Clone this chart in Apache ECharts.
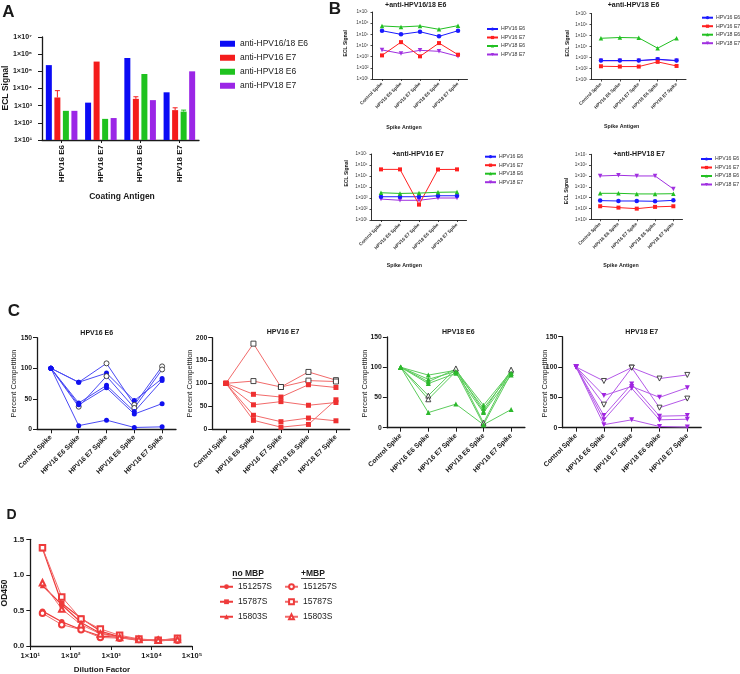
<!DOCTYPE html>
<html><head><meta charset="utf-8">
<script src="https://cdn.jsdelivr.net/npm/echarts@6/dist/echarts.min.js"></script>
<style>html,body{margin:0;padding:0;background:#fff}#c{width:740px;height:674px}</style>
</head><body><div id="c"></div>
<script>
// ================= DATA =================
// Panel A
const coatingAntigens = ['HPV16 E6', 'HPV16 E7', 'HPV18 E6', 'HPV18 E7'];
const barNames = ['anti-HPV16/18 E6', 'anti-HPV16 E7', 'anti-HPV18 E6', 'anti-HPV18 E7'];
const A_anti1618E6 = [2.3e5, 1.5e3, 6.0e5, 6.0e3];
const A_anti16E7 = [3.0e3, 3.7e5, 2.5e3, 5.5e2];
const A_anti18E6 = [5.0e2, 1.7e2, 7.0e4, 4.5e2];
const A_anti18E7 = [5.0e2, 1.9e2, 2.1e3, 1.0e5];
const A_err16E7_top = [7.5e3, null, 3.3e3, 7.5e2];
const A_err18E6_top = [null, null, null, 5.5e2];

// Panel B
const spikeAntigens = ['Control Spike', 'HPV16 E6 Spike', 'HPV16 E7 Spike', 'HPV18 E6 Spike', 'HPV18 E7 Spike'];
const detectNames = ['HPV16 E6', 'HPV16 E7', 'HPV18 E6', 'HPV18 E7'];
const B_titles = ['+anti-HPV16/18 E6', '+anti-HPV18 E6', '+anti-HPV16 E7', '+anti-HPV18 E7'];
const B1_16E6 = [2.1e5, 1.0e5, 1.7e5, 6.6e4, 2.1e5];
const B1_16E7 = [1.3e3, 2.0e4, 1.07e3, 1.65e4, 1.5e3];
const B1_18E6 = [5.6e5, 4.6e5, 5.6e5, 2.8e5, 6.0e5];
const B1_18E7 = [4.0e3, 1.9e3, 3.7e3, 3.0e3, 1.07e3];
const B2_16E6 = [5.3e2, 5.3e2, 5.3e2, 7.0e2, 5.3e2];
const B2_16E7 = [1.6e2, 1.5e2, 1.5e2, 4.0e2, 1.7e2];
const B2_18E6 = [5.6e4, 6.6e4, 6.1e4, 7.0e3, 5.6e4];
const B2_18E7 = [5.0e2, 5.0e2, 5.0e2, 6.5e2, 5.0e2];
const B3_16E6 = [1.3e3, 1.3e3, 1.3e3, 1.6e3, 1.6e3];
const B3_16E7 = [4.0e5, 4.0e5, 2.5e2, 3.9e5, 4.0e5];
const B3_18E6 = [3.0e3, 2.6e3, 2.8e3, 3.3e3, 3.5e3];
const B3_18E7 = [8.0e2, 6.2e2, 6.2e2, 1.0e3, 1.0e3];
const B4_16E6 = [5.3e2, 4.9e2, 4.9e2, 4.6e2, 5.6e2];
const B4_16E7 = [1.6e2, 1.2e2, 9.6e1, 1.4e2, 1.6e2];
const B4_18E6 = [2.5e3, 2.5e3, 2.2e3, 2.2e3, 2.3e3];
const B4_18E7 = [1.0e5, 1.15e5, 1.0e5, 1.0e5, 6.3e3];

// Panel C (percent competition, one row per antibody line)
const C_titles = ['HPV16 E6', 'HPV16 E7', 'HPV18 E6', 'HPV18 E7'];
const C_HPV16E6 = [
  [100, 77, 92, 47, 83],
  [100, 77, 108, 40, 103],
  [100, 37, 87, 35, 98],
  [100, 43, 72, 29, 80],
  [100, 40, 68, 25, 42],
  [100, 6, 15, 3, 4]
];
const C_HPV16E7 = [
  [100, 187, 92, 125, 107],
  [100, 105, 92, 106, 104],
  [100, 76, 70, 97, 91],
  [100, 53, 60, 52, 58],
  [100, 30, 16, 24, 18],
  [100, 19, 4, 10, 64]
];
const C_HPV18E6 = [
  [100, 87, 95, 37, 93],
  [100, 80, 93, 32, 90],
  [100, 76, 97, 27, 95],
  [100, 73, 90, 25, 87],
  [100, 53, 98, 8, 96],
  [100, 47, 93, 5, 90],
  [100, 25, 39, 5, 30]
];
const C_HPV18E7 = [
  [100, 77, 99, 81, 87],
  [100, 53, 68, 50, 66],
  [100, 38, 99, 33, 48],
  [100, 20, 72, 19, 20],
  [100, 13, 65, 13, 14],
  [100, 5, 13, 2, 1]
];
const C_yMax = [150, 200, 150, 150];

// Panel D
const dilution = [20, 60, 180, 540, 1620, 4860, 14580, 43740];
const D_151257S_noMBP = [0.49, 0.34, 0.23, 0.14, 0.12, 0.08, 0.08, 0.09];
const D_15787S_noMBP = [1.37, 0.60, 0.39, 0.21, 0.13, 0.09, 0.08, 0.10];
const D_15803S_noMBP = [0.85, 0.58, 0.33, 0.18, 0.13, 0.09, 0.07, 0.09];
const D_151257S_MBP = [0.46, 0.30, 0.23, 0.12, 0.11, 0.09, 0.08, 0.08];
const D_15787S_MBP = [1.38, 0.69, 0.38, 0.24, 0.15, 0.10, 0.08, 0.11];
const D_15803S_MBP = [0.89, 0.52, 0.30, 0.17, 0.12, 0.09, 0.08, 0.09];
const D_samples = ['151257S', '15787S', '15803S'];

// ================= STYLE / LAYOUT =================
const FF = '"Liberation Sans", Arial, sans-serif';
const INK = '#1a1a1a';
const SUP = '⁰¹²³⁴⁵⁶⁷⁸⁹';
const sup = n => String(n).split('').map(c => SUP[+c]).join('');
const logFmt = v => '1×10' + sup(Math.round(Math.log10(v)));

const barColors = ['#0b0bf5', '#f41c1c', '#1fc21f', '#9b26e6'];
const lineColorsB = ['#1a1aff', '#ff2020', '#22c022', '#a030e0'];
const symbolsB = ['circle', 'rect', 'triangle', 'triangle'];
const rotB = [0, 0, 0, 180];

// hollow (open) marker indexes for panel C rows
const C_hollow = [
  [[], [2, 3, 4], [1, 2, 3, 4], [], [], []],
  [[1, 2, 3, 4], [1, 2, 3, 4], [], [], [], []],
  [[], [], [], [], [1, 2, 3, 4], [1], []],
  [[1, 2, 3, 4], [], [1, 2, 3, 4], [], [], []]
];
const C_markColor = ['#1010f0', '#ee3030', '#2cb82c', '#a025e0'];
const C_lineColor = ['#4a4af5', '#f26a6a', '#5ccc5c', '#b458e8'];
const C_symbol = ['circle', 'rect', 'triangle', 'triangle'];
const C_rot = [0, 0, 0, 180];

const grids = [
  {left: 42, top: 37, width: 157, height: 103},          // A
  {left: 372.5, top: 12, width: 95, height: 67},          // B1
  {left: 591.5, top: 13.5, width: 94.5, height: 66},      // B2
  {left: 371.5, top: 154, width: 95, height: 66},         // B3
  {left: 591, top: 154.3, width: 91.5, height: 65},       // B4
  {left: 37, top: 337.7, width: 139, height: 91.6},       // C1
  {left: 212.2, top: 337.7, width: 137.5, height: 91.3},  // C2
  {left: 386.9, top: 337, width: 138, height: 90.7},      // C3
  {left: 562.2, top: 336.7, width: 139, height: 91},      // C4
  {left: 30.3, top: 539.3, width: 161.7, height: 106.7}   // D
].map(g => Object.assign({outerBoundsMode: 'none', containLabel: false}, g));

const axLine = (w) => ({show: true, lineStyle: {color: INK, width: w}});

const xAxes = [];
const yAxes = [];
// A
xAxes.push({type: 'category', gridIndex: 0, data: coatingAntigens, boundaryGap: true,
  axisLine: axLine(1.3), axisTick: {show: true, alignWithLabel: true, length: 3, lineStyle: {color: INK}},
  axisLabel: {rotate: 90, fontSize: 8, fontWeight: 'bold', fontFamily: FF, color: INK, margin: 5, interval: 0}});
yAxes.push({type: 'log', logBase: 10, gridIndex: 0, min: 10, max: 1e7, startValue: 10,
  axisLine: axLine(1.3), splitLine: {show: false},
  axisTick: {show: true, length: 4, lineStyle: {color: INK}},
  axisLabel: {fontSize: 7, fontWeight: 'bold', fontFamily: FF, color: INK, margin: 10, formatter: logFmt}});
// B
for (let k = 0; k < 4; k++) {
  xAxes.push({type: 'category', gridIndex: 1 + k, data: spikeAntigens, boundaryGap: true,
    axisLine: axLine(0.9), axisTick: {show: true, alignWithLabel: true, length: 2, lineStyle: {color: INK, width: 0.8}},
    axisLabel: {rotate: 45, fontSize: 4.6, fontWeight: 'bold', fontFamily: FF, color: '#333', margin: 4, interval: 0}});
  yAxes.push({type: 'log', logBase: 10, gridIndex: 1 + k, min: 10, max: 1e7,
    axisLine: axLine(0.9), splitLine: {show: false},
    axisTick: {show: true, length: 2, lineStyle: {color: INK, width: 0.8}},
    axisLabel: {fontSize: 4.6, fontFamily: FF, color: '#333', margin: 4, formatter: logFmt}});
}
// C
for (let k = 0; k < 4; k++) {
  xAxes.push({type: 'category', gridIndex: 5 + k, data: spikeAntigens, boundaryGap: true,
    axisLine: axLine(1.3), axisTick: {show: true, alignWithLabel: true, length: 4, lineStyle: {color: INK}},
    axisLabel: {rotate: 45, fontSize: 6.8, fontWeight: 'bold', fontFamily: FF, color: INK, margin: 7, interval: 0}});
  yAxes.push({type: 'value', gridIndex: 5 + k, min: 0, max: C_yMax[k], interval: 50,
    axisLine: axLine(1.3), splitLine: {show: false},
    axisTick: {show: true, length: 4, lineStyle: {color: INK}},
    axisLabel: {fontSize: 6.8, fontWeight: 'bold', fontFamily: FF, color: INK, margin: 5}});
}
// D
xAxes.push({type: 'log', logBase: 10, gridIndex: 9, min: 10, max: 1e5,
  axisLine: axLine(1.3), splitLine: {show: false},
  axisTick: {show: true, length: 4, lineStyle: {color: INK}},
  axisLabel: {fontSize: 7.5, fontWeight: 'bold', fontFamily: FF, color: INK, margin: 6, formatter: logFmt}});
yAxes.push({type: 'value', gridIndex: 9, min: 0, max: 1.5, interval: 0.5,
  axisLine: axLine(1.3), splitLine: {show: false},
  axisTick: {show: true, length: 4, lineStyle: {color: INK}},
  axisLabel: {fontSize: 8, fontWeight: 'bold', fontFamily: FF, color: INK, margin: 6, formatter: v => v.toFixed(1)}});

const series = [];
// ---- A bars
[A_anti1618E6, A_anti16E7, A_anti18E6, A_anti18E7].forEach((d, i) => {
  series.push({type: 'bar', name: barNames[i], xAxisIndex: 0, yAxisIndex: 0, data: d,
    barWidth: 6, barGap: '42%', itemStyle: {color: barColors[i]}, clip: true});
});
// ---- A error bars
const errData = [];
const baseVals = [A_anti16E7, A_anti18E6];
[A_err16E7_top, A_err18E6_top].forEach((tops, s) => {
  tops.forEach((t, i) => { if (t != null) errData.push([i, t, baseVals[s][i], s + 1]); });
});
series.push({type: 'custom', xAxisIndex: 0, yAxisIndex: 0, data: errData, encode: {x: 0, y: 1}, z: 3,
  renderItem(params, api) {
    const top = api.coord([api.value(0), api.value(1)]);
    const base = api.coord([api.value(0), api.value(2)]);
    const idx = api.value(3);
    const x = top[0] + (idx - 1.5) * 8.5;
    const col = barColors[idx];
    return {type: 'group', children: [
      {type: 'line', shape: {x1: x, y1: top[1], x2: x, y2: base[1]}, style: {stroke: col, lineWidth: 1}},
      {type: 'line', shape: {x1: x - 2.5, y1: top[1], x2: x + 2.5, y2: top[1]}, style: {stroke: col, lineWidth: 1}}
    ]};
  }});
// ---- B lines
const Bsets = [
  [B1_16E6, B1_16E7, B1_18E6, B1_18E7],
  [B2_16E6, B2_16E7, B2_18E6, B2_18E7],
  [B3_16E6, B3_16E7, B3_18E6, B3_18E7],
  [B4_16E6, B4_16E7, B4_18E6, B4_18E7]
];
Bsets.forEach((set, k) => {
  set.forEach((d, j) => {
    series.push({type: 'line', name: detectNames[j], xAxisIndex: 1 + k, yAxisIndex: 1 + k, data: d,
      symbol: symbolsB[j], symbolRotate: rotB[j], symbolSize: j === 1 ? 4 : 4.5, z: j === 3 ? 1 : 2,
      lineStyle: {color: lineColorsB[j], width: 1}, itemStyle: {color: lineColorsB[j]}});
  });
});
// ---- C lines
[C_HPV16E6, C_HPV16E7, C_HPV18E6, C_HPV18E7].forEach((rows, k) => {
  rows.forEach((vals, r) => {
    const hollow = C_hollow[k][r];
    series.push({type: 'line', name: 'C' + k + '_' + r, xAxisIndex: 5 + k, yAxisIndex: 5 + k,
      symbol: C_symbol[k], symbolRotate: C_rot[k], symbolSize: 5,
      lineStyle: {color: C_lineColor[k], width: 1}, itemStyle: {color: C_markColor[k]},
      data: vals.map((v, j) => hollow.includes(j)
        ? {value: v, itemStyle: {color: '#ffffff', borderColor: '#333', borderWidth: 0.9}, z: 5}
        : v)});
  });
});
// ---- D lines
const Dno = [D_151257S_noMBP, D_15787S_noMBP, D_15803S_noMBP];
const Dmbp = [D_151257S_MBP, D_15787S_MBP, D_15803S_MBP];
const Dsym = ['circle', 'rect', 'triangle'];
const Dred = '#ee3b3b';
Dno.forEach((d, i) => {
  series.push({type: 'line', name: D_samples[i] + '|no', xAxisIndex: 9, yAxisIndex: 9,
    data: d.map((v, j) => [dilution[j], v]), symbol: Dsym[i], symbolSize: 5.5,
    lineStyle: {color: Dred, width: 1.2}, itemStyle: {color: Dred}});
});
Dmbp.forEach((d, i) => {
  series.push({type: 'line', name: D_samples[i] + '|mbp', xAxisIndex: 9, yAxisIndex: 9,
    data: d.map((v, j) => [dilution[j], v]), symbol: 'empty' + Dsym[i][0].toUpperCase() + Dsym[i].slice(1), symbolSize: 5.5,
    lineStyle: {color: '#f26a6a', width: 1}, itemStyle: {color: Dred, borderWidth: 1}});
});

// ---- legends
const legends = [
  {data: barNames, left: 220, top: 38.5, itemWidth: 15, itemHeight: 6, itemGap: 3.5, icon: 'rect',
    textStyle: {fontSize: 8.5, lineHeight: 10.5, fontFamily: FF, color: INK}},
  {data: detectNames, left: 486, top: 25.5},
  {data: detectNames, left: 701, top: 14.2},
  {data: detectNames, left: 484, top: 153.2},
  {data: detectNames, left: 700, top: 155.5},
  {data: D_samples.map(s => s + '|no'), left: 219, top: 581.5},
  {data: D_samples.map(s => s + '|mbp'), left: 284, top: 581.5}
].map((l, i) => {
  const base = {orient: 'vertical', padding: 0, selectedMode: false};
  if (i >= 1 && i <= 4) Object.assign(base, {itemWidth: 11, itemHeight: 4, itemGap: 1.5,
    textStyle: {fontSize: 5.2, lineHeight: 7, fontFamily: FF, color: '#333', padding: [0, 0, 0, -2]}});
  if (i >= 5) Object.assign(base, {itemWidth: 13, itemHeight: 6, itemGap: 4.5,
    formatter: n => n.split('|')[0],
    textStyle: {fontSize: 8.5, lineHeight: 10.5, fontFamily: FF, color: INK}});
  return Object.assign(base, l);
});

// ---- free text (panel letters, titles, axis titles)
function T(x, y, text, size, rot, weight) {
  return {type: 'text', x: x, y: y, rotation: rot ? Math.PI / 2 : 0, z: 10,
    style: {text: text, fontSize: size, fontWeight: weight || 'bold', fontFamily: FF, fill: INK,
      align: 'center', verticalAlign: 'middle'}};
}
const graphics = [
  T(8.5, 12.5, 'A', 17), T(335, 9, 'B', 17), T(14, 311, 'C', 17), T(11.5, 515.5, 'D', 14),
  // A
  T(6, 88, 'ECL Signal', 8.5, true), T(122, 197, 'Coating Antigen', 8.5),
  // B titles & axes
  T(415.7, 5, B_titles[0], 7), T(633.5, 5.3, B_titles[1], 7), T(418, 154, B_titles[2], 7), T(639, 154, B_titles[3], 7),
  T(345.7, 43.3, 'ECL Signal', 5, true), T(567.3, 43.3, 'ECL Signal', 5, true),
  T(346.7, 173.3, 'ECL Signal', 5, true), T(567, 191, 'ECL Signal', 5, true),
  T(404, 127.7, 'Spike Antigen', 5.3), T(621.7, 126.7, 'Spike Antigen', 5.3),
  T(404.3, 266, 'Spike Antigen', 5.3), T(621, 265.7, 'Spike Antigen', 5.3),
  // C titles & axes
  T(96.7, 333.3, C_titles[0], 7), T(283, 331.7, C_titles[1], 7), T(458.3, 331.7, C_titles[2], 7), T(641.7, 331.7, C_titles[3], 7),
  T(13.5, 383.5, 'Percent Competition', 7.5, true, 'normal'), T(190, 383.5, 'Percent Competition', 7.5, true, 'normal'),
  T(364.5, 383.5, 'Percent Competition', 7.5, true, 'normal'), T(545, 383.5, 'Percent Competition', 7.5, true, 'normal'),
  // D
  T(5, 593, 'OD450', 8.5, true), T(102, 670, 'Dilution Factor', 8),
  T(248, 573.5, 'no MBP', 8.5), T(313, 573.5, '+MBP', 8.5),
  {type: 'line', shape: {x1: 232.5, y1: 578.5, x2: 263.5, y2: 578.5}, style: {stroke: INK, lineWidth: 0.8}},
  {type: 'line', shape: {x1: 301, y1: 578.5, x2: 325, y2: 578.5}, style: {stroke: INK, lineWidth: 0.8}}
];

const chart = echarts.init(document.getElementById('c'), null, {renderer: 'canvas'});
chart.setOption({
  backgroundColor: '#ffffff',
  animation: false,
  textStyle: {fontFamily: FF},
  grid: grids,
  xAxis: xAxes,
  yAxis: yAxes,
  legend: legends,
  series: series,
  graphic: graphics
});
</script>
</body></html>
